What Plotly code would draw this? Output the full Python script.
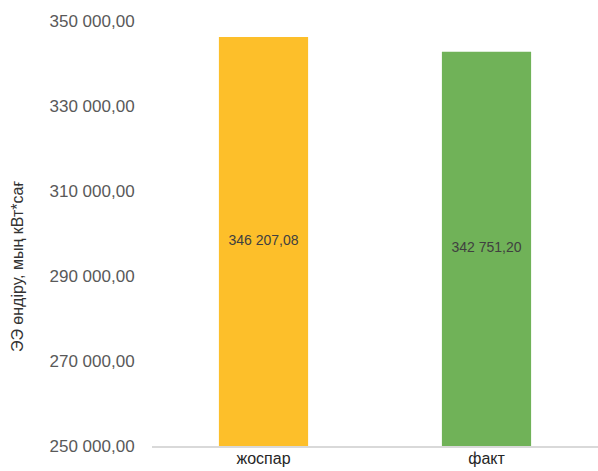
import plotly.graph_objects as go

categories = ["жоспар", "факт"]
values = [346207.08, 342751.20]
colors = ["#FDBF2A", "#70B258"]
y_title = "ЭЭ өндіру, мың кВт*сағ"
y_min, y_max, y_step = 250000, 350000, 20000

fig = go.Figure()
fig.add_trace(go.Bar(
    x=categories, y=values,
    marker=dict(color=colors, line=dict(width=0)),
    width=0.4,
    hoverinfo="skip",
))
# value labels placed in the middle of the visible part of each bar
fig.add_trace(go.Scatter(
    x=categories,
    y=[(y_min + v) / 2 for v in values],
    customdata=values,
    mode="text",
    texttemplate="%{customdata:,.2f}",
    textposition="middle center",
    textfont=dict(family="Liberation Sans", size=14, color="#404040"),
    hoverinfo="skip",
))

fig.update_layout(
    width=598, height=471,
    margin=dict(l=152, r=0, t=21, b=25),
    plot_bgcolor="white", paper_bgcolor="white",
    separators=", ",
    showlegend=False,
    font=dict(family="Liberation Sans"),
    xaxis=dict(
        showline=True, linecolor="#d9d9d9", linewidth=1.5,
        showgrid=False, ticks="",
        tickfont=dict(size=16, color="#262626"),
        ticklabelstandoff=-3,
    ),
    yaxis=dict(
        range=[y_min, y_max], autorange=False,
        tick0=y_min, dtick=y_step, tickformat=",.2f",
        showgrid=False, showline=False, zeroline=False,
        ticks="outside", ticklen=13, tickcolor="rgba(0,0,0,0)",
        tickfont=dict(size=17, color="#595959"),
    ),
    annotations=[dict(
        text=y_title, textangle=-90,
        xref="paper", yref="paper", x=0, y=0.421,
        xanchor="center", yanchor="middle", xshift=-135,
        showarrow=False,
        font=dict(size=16, color="#333333"),
    )],
)

fig.write_html("out.html")
